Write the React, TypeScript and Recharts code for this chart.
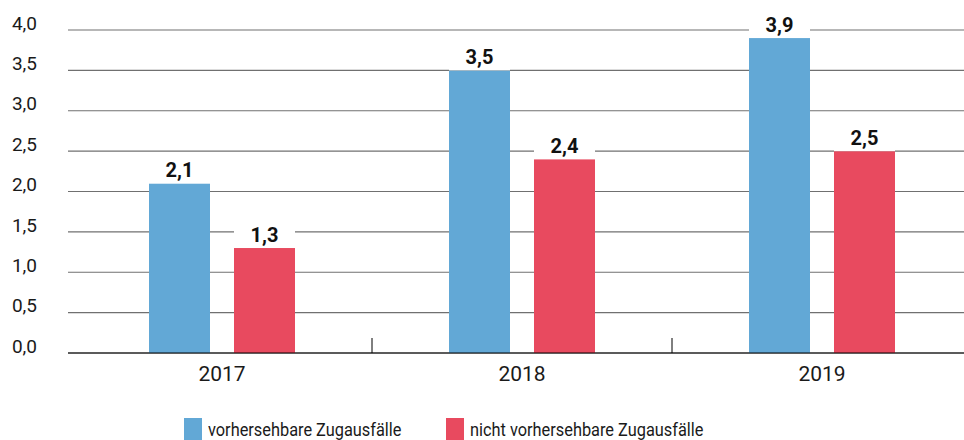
import { Bar, BarChart, CartesianGrid, LabelList, XAxis, YAxis } from "recharts";

const years = ["2017", "2018", "2019"];
const predictable = [2.1, 3.5, 3.9];
const unpredictable = [1.3, 2.4, 2.5];
const yTicks = [0, 0.5, 1, 1.5, 2, 2.5, 3, 3.5, 4];
const seriesNames = ["vorhersehbare Zugausfälle", "nicht vorhersehbare Zugausfälle"];

const BLUE = "#62A8D6";
const RED = "#E84A5F";
const FONT = "Roboto, sans-serif";

const data = years.map((year, i) => ({
  year,
  predictable: predictable[i],
  unpredictable: unpredictable[i],
}));

const CHART_W = 980;
const PLOT_LEFT = 68;
const PLOT_RIGHT_MARGIN = 8;
const PAD_LEFT = 4;
const BAND = (CHART_W - PLOT_LEFT - PLOT_RIGHT_MARGIN - PAD_LEFT) / years.length;

const fmt = (v: number) => v.toFixed(1).replace(".", ",");

function ValueLabel(props: any) {
  const { x, y, width, value } = props;
  return (
    <g>
      <rect x={x} y={y - 27} width={width} height={27} fill="#fff" />
      <text
        x={x + width / 2}
        y={y - 6}
        textAnchor="middle"
        fontFamily={FONT}
        fontWeight={700}
        fontSize={20}
        fill="#111"
      >
        {fmt(Number(value))}
      </text>
    </g>
  );
}

function YearTick(props: any) {
  const { x, y, payload, index } = props;
  return (
    <g>
      <text x={x} y={y + 28} textAnchor="middle" fontFamily={FONT} fontSize={21} fill="#1a1a1a">
        {payload.value}
      </text>
      {index < years.length - 1 && (
        <line x1={x + BAND / 2} x2={x + BAND / 2} y1={y - 15} y2={y} stroke="#000" strokeWidth={1} />
      )}
    </g>
  );
}

export default function App() {
  const colors = [BLUE, RED];
  const legendX = [184, 446];
  return (
    <div style={{ position: "absolute", left: 0, top: 0, width: 964, height: 440, overflow: "hidden", background: "#fff" }}>
      <BarChart
        width={CHART_W}
        height={440}
        data={data}
        margin={{ top: 30, right: PLOT_RIGHT_MARGIN, left: 0, bottom: 57 }}
        barSize={61}
        barGap={24}
      >
        <CartesianGrid horizontal vertical={false} stroke="#707070" strokeWidth={1.2} />
        <XAxis
          dataKey="year"
          axisLine={{ stroke: "#000", strokeWidth: 1.2 }}
          tickLine={false}
          tickSize={0}
          tickMargin={0}
          padding={{ left: PAD_LEFT, right: 0 }}
          height={30}
          tick={<YearTick />}
          interval={0}
        />
        <YAxis
          domain={[0, 4]}
          ticks={yTicks}
          width={PLOT_LEFT}
          axisLine={false}
          tickLine={false}
          tickSize={6}
          tickMargin={25}
          tickFormatter={fmt}
          tick={{ fontFamily: FONT, fontSize: 19, fill: "#1a1a1a", dy: -7 }}
          interval={0}
        />
        <Bar dataKey="predictable" fill={BLUE} isAnimationActive={false}>
          <LabelList dataKey="predictable" content={<ValueLabel />} />
        </Bar>
        <Bar dataKey="unpredictable" fill={RED} isAnimationActive={false}>
          <LabelList dataKey="unpredictable" content={<ValueLabel />} />
        </Bar>
      </BarChart>
      {seriesNames.map((name, i) => (
        <div key={name}>
          <div
            style={{
              position: "absolute",
              left: legendX[i],
              top: 418,
              width: 18,
              height: 22,
              background: colors[i],
            }}
          />
          <span
            style={{
              position: "absolute",
              left: legendX[i] + 24,
              top: 419,
              fontFamily: FONT,
              fontSize: 19,
              lineHeight: "22px",
              color: "#1a1a1a",
              whiteSpace: "nowrap",
              transform: "scaleX(0.86)",
              transformOrigin: "left top",
            }}
          >
            {name}
          </span>
        </div>
      ))}
    </div>
  );
}
